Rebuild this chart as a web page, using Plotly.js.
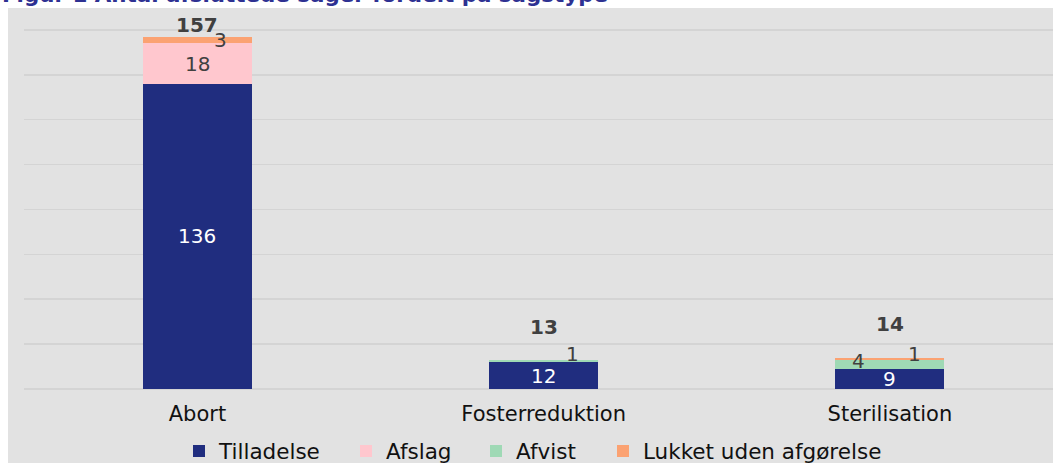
<!DOCTYPE html>
<html>
<head>
<meta charset="utf-8">
<script src="https://cdn.plot.ly/plotly-3.0.1.min.js"></script>
<style>html,body{margin:0;padding:0;background:#fff;}#chart{width:1053px;height:463px;}</style>
</head>
<body>
<div id="chart"></div>
<script>
// ---- data ----
const categories = ['Abort', 'Fosterreduktion', 'Sterilisation'];
const seriesNames = ['Tilladelse', 'Afslag', 'Afvist', 'Lukket uden afgørelse'];
const tilladelse = [136, 12, 9];
const afslag = [18, 0, 0];
const afvist = [0, 1, 4];
const lukket = [3, 0, 1];
const titleText = 'Figur 1 Antal afsluttede sager fordelt på sagstype';

// ---- styles ----
const FONT = 'DejaVu Sans, Verdana, sans-serif';
const colors = ['#202D7F', '#FFC7CE', '#9FD9B5', '#FBA272'];
const labelColors = ['#FFFFFF', '#404040', '#404040', '#404040'];
const series = [tilladelse, afslag, afvist, lukket];
const legendIds = ['legend', 'legend2', 'legend3', 'legend4'];
const legendTextStart = [219, 386, 516, 643]; // pixel x where each legend label begins

const traces = series.map((vals, i) => ({
  type: 'bar',
  name: seriesNames[i],
  x: categories,
  y: vals,
  width: 0.315,
  legend: legendIds[i],
  marker: {color: colors[i], line: {width: 0}},
  hoverinfo: 'x+y+name'
}));

// label offsets (pixels) for small segments, keyed "series-category"
const labelShift = {
  '3-0': [23, 0],
  '2-1': [29, 7],
  '2-2': [-31, 3],
  '3-2': [25, 5]
};
const totalShift = [11.5, 33, 34];

const annotations = [];
categories.forEach((cat, c) => {
  let base = 0;
  series.forEach((vals, s) => {
    const v = vals[c];
    if (v > 0) {
      const sh = labelShift[s + '-' + c] || [0, 0];
      annotations.push({
        x: cat, y: base + v / 2, xref: 'x', yref: 'y',
        text: String(v), showarrow: false,
        xanchor: 'center', yanchor: 'middle',
        xshift: sh[0], yshift: sh[1],
        font: {family: FONT, size: 20, color: labelColors[s]}
      });
    }
    base += v;
  });
  annotations.push({
    x: cat, y: base, xref: 'x', yref: 'y',
    text: '<b>' + base + '</b>', showarrow: false,
    xanchor: 'center', yanchor: 'middle',
    yshift: totalShift[c],
    font: {family: FONT, size: 20, color: '#404040'}
  });
});

// cropped figure title at the very top
annotations.push({
  xref: 'paper', yref: 'paper', x: -0.0233, y: 1.0435,
  xanchor: 'left', yanchor: 'bottom',
  text: '<b>' + titleText + '</b>', showarrow: false,
  font: {family: FONT, size: 21.4, color: '#2E3192'}
});

const layout = {
  width: 1053, height: 463,
  margin: {l: 24, r: 0, t: 25, b: 70, pad: 0},
  paper_bgcolor: '#E2E2E2',
  plot_bgcolor: 'rgba(0,0,0,0)',
  barmode: 'stack',
  showlegend: true,
  font: {family: FONT, color: '#111111'},
  xaxis: {
    type: 'category',
    range: [-0.501, 2.471],
    showgrid: false, zeroline: false, showline: false, ticks: '',
    tickfont: {family: FONT, size: 21, color: '#111111'},
    ticklabelstandoff: 6,
    fixedrange: true
  },
  yaxis: {
    range: [-1.78, 162.2],
    tickvals: [0, 20, 40, 60, 80, 100, 120, 140, 160],
    showticklabels: false,
    showgrid: true, gridcolor: '#D4D4D4', gridwidth: 1.5,
    zeroline: false, showline: false, ticks: '',
    fixedrange: true
  },
  shapes: [
    {type: 'rect', xref: 'paper', yref: 'paper', x0: -0.05, x1: 1.05, y0: 1.0462, y1: 1.2,
     fillcolor: '#FFFFFF', line: {width: 0}, layer: 'below'},
    {type: 'rect', xref: 'paper', yref: 'paper', x0: -0.05, x1: -0.01555, y0: -0.3, y1: 1.2,
     fillcolor: '#FFFFFF', line: {width: 0}, layer: 'below'}
  ],
  annotations: annotations,
  bargap: 0.685
};

legendIds.forEach((id, i) => {
  layout[id] = {
    orientation: 'h',
    x: (legendTextStart[i] - 40) / 1053, xanchor: 'left', xref: 'container',
    y: 0.026, yanchor: 'middle', yref: 'container',
    font: {family: FONT, size: 21.5, color: '#111111'},
    bgcolor: 'rgba(0,0,0,0)', borderwidth: 0
  };
});

Plotly.newPlot('chart', traces, layout, {displayModeBar: false, staticPlot: true});
</script>
</body>
</html>
